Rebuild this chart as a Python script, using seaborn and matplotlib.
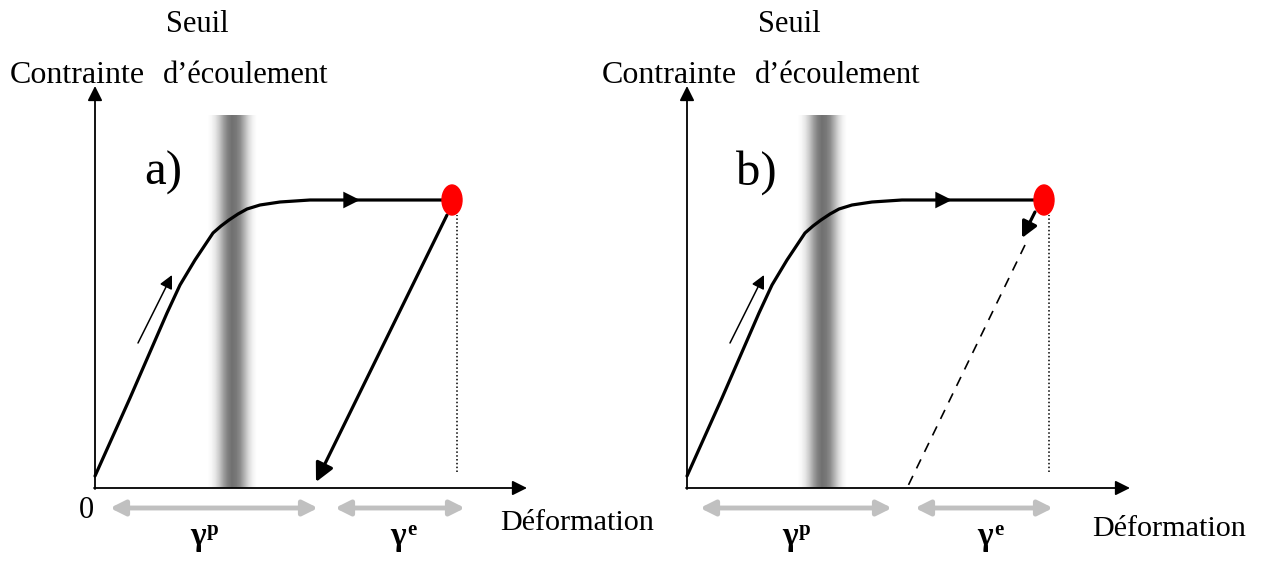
import numpy as np
import matplotlib
matplotlib.use("Agg")
import matplotlib.pyplot as plt
import seaborn as sns

# courbe contrainte-déformation (unités arbitraires, origine = 0)
deformation = [0, 35, 72, 85, 100, 118, 126, 134, 143, 152, 165, 185, 215, 357]
contrainte = [12, 90, 175, 203, 228, 255, 262, 268, 274, 279, 283, 286, 288, 288]

# point de décharge (rond rouge) et retour élastique
point_rouge = (357, 288)
decharge_a = ([352, 221], [273, 6])
decharge_b = ([338, 220], [243, 0])
fleche_b = ([348, 335], [276, 250])

# seuil d'écoulement (bande grise) : niveaux de gris
seuil_x = [137, 135]
nuances = [1.0, 0.97, 0.9, 0.78, 0.62, 0.5, 0.44, 0.47, 0.55, 0.7, 0.85, 0.95, 1.0]

# intervalles gamma p / gamma e
gamma_p = [(15, 223), (13, 205)]
gamma_e = [(240, 370), (228, 366)]
gamma_p_txt = [95, 95]
gamma_e_txt = [295, 290]
axe_x_fin = [432, 443]

sns.set_theme(style="white")
plt.rcParams['font.family'] = ['Liberation Serif', 'DejaVu Serif']
plt.rcParams['text.color'] = 'black'

fig = plt.figure(figsize=(12.64, 5.61), dpi=100)
ax_a = fig.add_axes([0, 0, 0.5, 1])
ax_b = fig.add_axes([0.5, 0, 0.5, 1])
panneaux = [(ax_a, -95, 'a)'), (ax_b, -55, 'b)')]

for i, (ax, x0, lettre) in enumerate(panneaux):
    ax.set_xlim(x0, x0 + 632)
    ax.set_ylim(-73, 488)
    ax.axis('off')
    ax.patch.set_alpha(0)

    # bande grise
    bande = np.array(nuances)[None, :]
    ax.imshow(bande, cmap='gray', vmin=0, vmax=1, aspect='auto',
              interpolation='bilinear',
              extent=(seuil_x[i] - 27, seuil_x[i] + 27, 0, 373), zorder=1)

    # axes avec flèches
    ax.annotate('', xy=(0, 402), xytext=(0, -1),
                arrowprops=dict(arrowstyle='-|>', color='black', lw=1.3,
                                mutation_scale=22, shrinkA=0, shrinkB=0), zorder=3)
    ax.annotate('', xy=(axe_x_fin[i], 0), xytext=(-1, 0),
                arrowprops=dict(arrowstyle='-|>', color='black', lw=1.3,
                                mutation_scale=22, shrinkA=0, shrinkB=0), zorder=3)

    # courbe de charge
    sns.lineplot(x=deformation, y=contrainte, sort=False, estimator=None,
                 color='black', lw=2.3, ax=ax, zorder=4)
    ax.annotate('', xy=(265, 288), xytext=(250, 288),
                arrowprops=dict(arrowstyle='-|>', color='black', lw=0,
                                mutation_scale=30, shrinkA=0, shrinkB=0), zorder=5)
    ax.annotate('', xy=(77, 213), xytext=(43, 145),
                arrowprops=dict(arrowstyle='-|>', color='black', lw=1.1,
                                mutation_scale=20, shrinkA=0, shrinkB=0), zorder=5)

    # pointillés verticaux
    ax.plot([362, 362], [16, 273], color='black', lw=1.1, ls=(0, (1, 1.5)), zorder=3)

    # décharge
    if i == 0:
        ax.annotate('', xy=(decharge_a[0][1], decharge_a[1][1]),
                    xytext=(decharge_a[0][0], decharge_a[1][0]),
                    arrowprops=dict(arrowstyle='-|>', color='black', lw=2.3,
                                    mutation_scale=28, shrinkA=0, shrinkB=0), zorder=4)
    else:
        ax.plot(decharge_b[0], decharge_b[1], color='black', lw=1.2,
                ls=(0, (6, 5)), zorder=4)
        ax.annotate('', xy=(fleche_b[0][1], fleche_b[1][1]),
                    xytext=(fleche_b[0][0], fleche_b[1][0]),
                    arrowprops=dict(arrowstyle='-|>', color='black', lw=2.3,
                                    mutation_scale=24, shrinkA=0, shrinkB=0), zorder=4)

    ax.add_patch(matplotlib.patches.Ellipse(point_rouge, 20, 30, color='red', zorder=6))

    # flèches gamma
    for (g0, g1) in (gamma_p[i], gamma_e[i]):
        ax.annotate('', xy=(g1, -20), xytext=(g0, -20),
                    arrowprops=dict(arrowstyle='<|-|>', color='#c0c0c0', lw=3.5,
                                    mutation_scale=22, shrinkA=0, shrinkB=0), zorder=3)
    for xg, lettre_g in ((gamma_p_txt[i], 'p'), (gamma_e_txt[i], 'e')):
        ax.text(xg, -57, 'γ', fontsize=24, fontweight='bold',
                ha='left', va='baseline')
        ax.text(xg + 17, -47, lettre_g, fontsize=15, fontweight='bold',
                ha='left', va='baseline')

    # textes
    ax.text(-85, 405, 'Contrainte', fontsize=23, ha='left', va='baseline')
    ax.text(71, 456, 'Seuil', fontsize=22, ha='left', va='baseline')
    ax.text(68, 405, 'd’écoulement', fontsize=22, ha='left', va='baseline')
    ax.text(49, 303, lettre, fontsize=35, ha='left', va='baseline')

ax_a.text(-16, -30, '0', fontsize=22, ha='left', va='baseline')
ax_a.text(405, -42, 'Déformation', fontsize=21.7, ha='left', va='baseline')
ax_b.text(405, -48, 'Déformation', fontsize=21.7, ha='left', va='baseline')

fig.savefig('out.png', dpi=100)
